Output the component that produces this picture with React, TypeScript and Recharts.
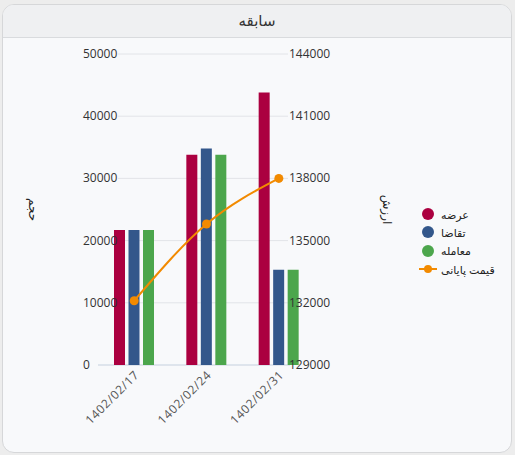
import { ComposedChart, Bar, Line, XAxis, YAxis, CartesianGrid, Legend, Label } from "recharts";

// values
const dates = ["1402/02/17", "1402/02/24", "1402/02/31"];
const supply = [21700, 33800, 43800];
const demand = [21700, 34800, 15300];
const trades = [21700, 33800, 15300];
const closePrice = [132100, 135800, 138000];

const volumeTicks = [0, 10000, 20000, 30000, 40000, 50000];
const priceTicks = [129000, 132000, 135000, 138000, 141000, 144000];

const title = "سابقه";
const volumeLabel = "حجم";
const priceLabel = "ارزش";
const supplyName = "عرضه";
const demandName = "تقاضا";
const tradesName = "معامله";
const priceName = "قیمت پایانی";

const colors = {
  supply: "#ab0040",
  demand: "#33578b",
  trades: "#4ca64c",
  price: "#f28a00",
};

const font = "'Open Sans', 'DejaVu Sans', sans-serif";

const data = dates.map((d, i) => ({
  date: d,
  supply: supply[i],
  demand: demand[i],
  trades: trades[i],
  price: closePrice[i],
}));

const CHART_W = 515;
const CHART_H = 415;
const MARGIN = { top: 16, right: 120, bottom: 8, left: 0 };
const X_AXIS_H = 80;
const PLOT_BOTTOM = CHART_H - MARGIN.bottom - X_AXIS_H;

// grid lines stop short of the tick labels; the bottom one doubles as the baseline
const gridLine = (props: any) => {
  const { x1, x2, y1, index } = props;
  const isBase = y1 >= PLOT_BOTTOM - 1;
  return (
    <line
      key={`grid-${index}-${y1}`}
      x1={isBase ? x1 : x1 + 20}
      x2={isBase ? x2 - 25 : x2 - 27}
      y1={y1}
      y2={y1}
      stroke={isBase ? "#c5d0de" : "#e2e4e8"}
      strokeWidth={1}
    />
  );
};

const LeftTick = ({ x, y, payload }: any) => (
  <text x={x - 15} y={y} dy={4} textAnchor="start" fontSize={12} fill="#333" fontFamily={font}>
    {payload.value}
  </text>
);

const RightTick = ({ x, y, payload }: any) => (
  <text x={x - 26} y={y} dy={4} textAnchor="start" fontSize={12} fill="#333" fontFamily={font}>
    {payload.value}
  </text>
);

const DateTick = ({ x, y, payload }: any) => (
  <g transform={`translate(${x},${y + 3})`}>
    <text
      x={0}
      y={0}
      dy={8}
      textAnchor="end"
      transform="rotate(-45)"
      fontSize={12}
      letterSpacing={0.6}
      fill="#555"
      fontFamily={font}
    >
      {payload.value}
    </text>
  </g>
);

const sideLabel = (text: string, dx: number) => (props: any) => {
  const vb = props.viewBox;
  const cx = vb.x + dx;
  const cy = vb.y + vb.height / 2;
  return (
    <text
      x={cx}
      y={cy}
      textAnchor="middle"
      dominantBaseline="central"
      transform={`rotate(90, ${cx}, ${cy})`}
      fontSize={12}
      fill="#222"
      fontFamily={font}
    >
      {text}
    </text>
  );
};

const legendItems = [
  { name: supplyName, color: colors.supply, line: false },
  { name: demandName, color: colors.demand, line: false },
  { name: tradesName, color: colors.trades, line: false },
  { name: priceName, color: colors.price, line: true },
];

const renderLegend = () => (
  <div style={{ fontFamily: font, fontSize: 11, color: "#222" }}>
    {legendItems.map((it) => (
      <div key={it.name} style={{ display: "flex", alignItems: "center", height: 18.3 }}>
        <svg width={20} height={14} style={{ marginRight: 3 }}>
          {it.line ? (
            <>
              <line x1={1} x2={19} y1={7} y2={7} stroke={it.color} strokeWidth={2} />
              <circle cx={10} cy={7} r={4} fill={it.color} />
            </>
          ) : (
            <circle cx={10} cy={7} r={6} fill={it.color} />
          )}
        </svg>
        <span>{it.name}</span>
      </div>
    ))}
  </div>
);

export default function App() {
  return (
    <div style={{ position: "fixed", left: 0, top: 0, width: 515, height: 455, background: "#ededed" }}>
      <div
        style={{
          position: "absolute",
          left: 2,
          top: 4,
          width: 510,
          height: 449,
          boxSizing: "border-box",
          border: "1px solid #d6d7d9",
          borderRadius: 12,
          overflow: "hidden",
          background: "#f8f9fb",
        }}
      >
        <div
          style={{
            height: 33,
            boxSizing: "border-box",
            borderBottom: "1px solid #d9dbde",
            background: "#eff0f2",
            textAlign: "center",
            lineHeight: "31px",
            fontFamily: font,
            fontSize: 15,
            color: "#333",
          }}
        >
          {title}
        </div>
      </div>
      <div style={{ position: "absolute", left: 0, top: 38 }}>
        <ComposedChart width={CHART_W} height={CHART_H} data={data} margin={MARGIN} barSize={11} barGap={3.5}>
          <CartesianGrid yAxisId="vol" vertical={false} horizontal={gridLine} />
          <XAxis
            dataKey="date"
            height={X_AXIS_H}
            axisLine={false}
            tickLine={false}
            tickSize={0}
            interval={0}
            tick={<DateTick />}
          />
          <YAxis
            yAxisId="vol"
            orientation="left"
            width={98}
            domain={[0, 50000]}
            ticks={volumeTicks}
            axisLine={false}
            tickLine={false}
            tickSize={0}
            tickMargin={0}
            tick={<LeftTick />}
          >
            <Label content={sideLabel(volumeLabel, 33)} />
          </YAxis>
          <YAxis
            yAxisId="price"
            orientation="right"
            width={80}
            domain={[129000, 144000]}
            ticks={priceTicks}
            axisLine={false}
            tickLine={false}
            tickSize={0}
            tickMargin={0}
            tick={<RightTick />}
          >
            <Label content={sideLabel(priceLabel, 72)} />
          </YAxis>
          <Legend
            layout="vertical"
            align="center"
            verticalAlign="middle"
            content={renderLegend}
            wrapperStyle={{ position: "absolute", left: 418, top: 167, width: 90 }}
          />
          <Bar yAxisId="vol" dataKey="supply" name={supplyName} fill={colors.supply} isAnimationActive={false} />
          <Bar yAxisId="vol" dataKey="demand" name={demandName} fill={colors.demand} isAnimationActive={false} />
          <Bar yAxisId="vol" dataKey="trades" name={tradesName} fill={colors.trades} isAnimationActive={false} />
          <Line
            yAxisId="price"
            type="monotone"
            dataKey="price"
            name={priceName}
            stroke={colors.price}
            strokeWidth={2}
            dot={{ r: 4.5, fill: colors.price, stroke: "none" }}
            activeDot={false}
            isAnimationActive={false}
          />
        </ComposedChart>
      </div>
    </div>
  );
}
